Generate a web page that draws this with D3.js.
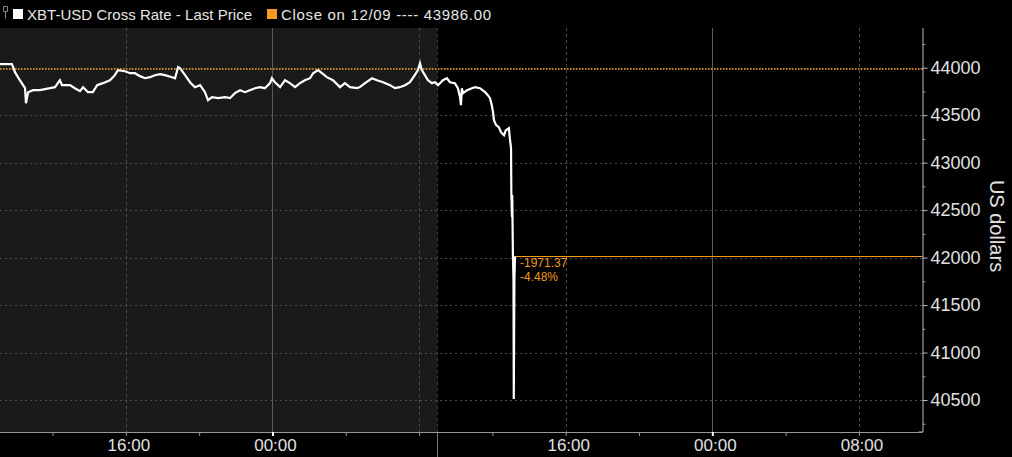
<!DOCTYPE html>
<html><head><meta charset="utf-8">
<script src="https://cdn.jsdelivr.net/npm/d3@7"></script>
<style>html,body{margin:0;padding:0;background:#000;}svg{display:block;font-family:"Liberation Sans",Arial,sans-serif;}</style>
</head><body><svg id="c" width="1012" height="457"></svg>
<script>
// ---- data ----
const times = [
"2021-09-12T09:08","2021-09-12T09:47","2021-09-12T09:51","2021-09-12T09:57","2021-09-12T10:13","2021-09-12T10:30","2021-09-12T10:33","2021-09-12T10:40","2021-09-12T10:56","2021-09-12T11:19",
"2021-09-12T11:35","2021-09-12T11:52","2021-09-12T12:08","2021-09-12T12:24","2021-09-12T12:31","2021-09-12T12:57","2021-09-12T13:13","2021-09-12T13:30","2021-09-12T13:40","2021-09-12T13:56",
"2021-09-12T14:12","2021-09-12T14:26","2021-09-12T14:45","2021-09-12T15:08","2021-09-12T15:24","2021-09-12T15:34","2021-09-12T15:57","2021-09-12T16:14","2021-09-12T16:30","2021-09-12T16:46",
"2021-09-12T17:03","2021-09-12T17:19","2021-09-12T17:35","2021-09-12T17:52","2021-09-12T18:08","2021-09-12T18:31","2021-09-12T18:41","2021-09-12T18:51","2021-09-12T18:57","2021-09-12T19:14",
"2021-09-12T19:30","2021-09-12T19:46","2021-09-12T20:03","2021-09-12T20:19","2021-09-12T20:29","2021-09-12T20:42","2021-09-12T21:02","2021-09-12T21:25","2021-09-12T21:41","2021-09-12T21:57",
"2021-09-12T22:14","2021-09-12T22:30","2021-09-12T22:46","2021-09-12T23:03","2021-09-12T23:19","2021-09-12T23:35","2021-09-12T23:52","2021-09-12T23:58",
"2021-09-13T00:08","2021-09-13T00:25","2021-09-13T00:41","2021-09-13T00:57","2021-09-13T01:14","2021-09-13T01:30","2021-09-13T01:46","2021-09-13T02:03","2021-09-13T02:13","2021-09-13T02:29",
"2021-09-13T02:42","2021-09-13T02:58","2021-09-13T03:18","2021-09-13T03:41","2021-09-13T03:57","2021-09-13T04:14","2021-09-13T04:37","2021-09-13T04:46","2021-09-13T05:03","2021-09-13T05:26",
"2021-09-13T05:42","2021-09-13T06:02","2021-09-13T06:25","2021-09-13T06:41","2021-09-13T06:57","2021-09-13T07:14","2021-09-13T07:30","2021-09-13T07:46","2021-09-13T07:56","2021-09-13T08:03",
"2021-09-13T08:09","2021-09-13T08:19","2021-09-13T08:29","2021-09-13T08:42","2021-09-13T08:52","2021-09-13T09:02","2021-09-13T09:18","2021-09-13T09:31","2021-09-13T09:41","2021-09-13T09:57",
"2021-09-13T10:07","2021-09-13T10:14","2021-09-13T10:17","2021-09-13T10:20","2021-09-13T10:24","2021-09-13T10:37","2021-09-13T10:53","2021-09-13T11:03","2021-09-13T11:19","2021-09-13T11:36",
"2021-09-13T11:45","2021-09-13T11:52","2021-09-13T11:58","2021-09-13T12:02","2021-09-13T12:05","2021-09-13T12:12","2021-09-13T12:21","2021-09-13T12:28","2021-09-13T12:38","2021-09-13T12:44",
"2021-09-13T12:54","2021-09-13T12:57","2021-09-13T13:01","2021-09-13T13:02","2021-09-13T13:04","2021-09-13T13:05","2021-09-13T13:07","2021-09-13T13:09","2021-09-13T13:10","2021-09-13T13:12",
"2021-09-13T13:14"];
const prices = [
44037,44037,44005,43953,43868,43784,43626,43742,43763,43763,
43774,43784,43795,43868,43816,43816,43784,43753,43795,43742,
43742,43816,43837,43868,43921,43974,43963,43942,43942,43911,
43889,43900,43921,43932,43921,43900,43889,44005,43995,43921,
43847,43795,43816,43742,43658,43689,43679,43689,43679,43732,
43763,43742,43763,43784,43795,43784,43837,43889,
43847,43795,43868,43837,43795,43837,43868,43889,43942,43974,
43942,43900,43868,43795,43837,43795,43784,43795,43837,43889,
43868,43847,43816,43784,43795,43816,43847,43921,43974,44047,
43974,43921,43868,43837,43847,43816,43868,43889,43847,43837,
43784,43689,43605,43784,43732,43763,43784,43795,43784,43742,
43711,43679,43605,43532,43447,43395,43374,43321,43289,43342,
43363,43258,43153,42679,42426,42658,42047,41763,40511,41780,
42014.63];
const prevClose = 43986.00;
const lastPrice = 42014.63;
const yTickValues = [40500,41000,41500,42000,42500,43000,43500,44000];
const yMinorValues = [40250,40750,41250,41750,42250,42750,43250,43750,44250];
const xTickTimes = ["2021-09-12T12:00","2021-09-12T16:00","2021-09-12T20:00","2021-09-13T00:00","2021-09-13T04:00","2021-09-13T08:00","2021-09-13T12:00","2021-09-13T16:00","2021-09-13T20:00","2021-09-14T00:00","2021-09-14T04:00","2021-09-14T08:00"];
const xLabelTimes = ["2021-09-12T16:00","2021-09-13T00:00","2021-09-13T16:00","2021-09-14T00:00","2021-09-14T08:00"];
const xLabels = ["16:00","00:00","16:00","00:00","08:00"];
const xGridTimes = ["2021-09-12T16:00","2021-09-13T00:00","2021-09-13T08:00","2021-09-13T16:00","2021-09-14T00:00","2021-09-14T08:00"];
const sessionStart = "2021-09-13T09:00";
const xDomain = ["2021-09-12T09:08","2021-09-14T11:28"];
const yDomain = [40163, 44418];
const legendMain = "XBT-USD Cross Rate - Last Price";
const legendClose = "Close on 12/09 ---- 43986.00";
const yTitle = "US dollars";

// ---- drawing ----
const parse = d3.utcParse("%Y-%m-%dT%H:%M");
const W=1012,H=457, L=0, R=922.5, T=28, B=432;
const ORANGE="#f39a1e";
const svg=d3.select("#c");
svg.append("rect").attr("width",W).attr("height",H).attr("fill","#000");

const x=d3.scaleUtc().domain(xDomain.map(parse)).range([L,R]);
const y=d3.scaleLinear().domain(yDomain).range([B,T]);
const hy = s => s.replace(/\u2212/g,"-");

// shaded previous session
svg.append("rect").attr("x",L).attr("y",T).attr("width",x(parse(sessionStart))-L).attr("height",B-T).attr("fill","#1a1a1a");

// horizontal gridlines
svg.append("g").selectAll("line").data(yTickValues).join("line")
  .attr("x1",L).attr("x2",R).attr("y1",d=>Math.round(y(d))+0.5).attr("y2",d=>Math.round(y(d))+0.5)
  .attr("stroke","#4a4a4a").attr("stroke-width",1).attr("stroke-dasharray","2,3");
// vertical gridlines
svg.append("g").selectAll("line").data(xGridTimes.map(parse)).join("line")
  .attr("x1",d=>Math.round(x(d))+0.5).attr("x2",d=>Math.round(x(d))+0.5).attr("y1",T).attr("y2",B)
  .attr("stroke",d=>d.getUTCHours()===0?"#5a5a5a":"#4a4a4a")
  .attr("stroke-dasharray",d=>d.getUTCHours()===0?null:"3,3");
// session separator
const sx=Math.round(x(parse(sessionStart)))+0.5;
svg.append("line").attr("x1",sx).attr("x2",sx).attr("y1",T).attr("y2",B).attr("stroke","#3a3a3a").attr("stroke-dasharray","3,3");
svg.append("line").attr("x1",sx).attr("x2",sx).attr("y1",B).attr("y2",H).attr("stroke","#777");

// previous close dotted line
svg.append("line").attr("x1",L).attr("x2",R).attr("y1",y(prevClose)).attr("y2",y(prevClose))
  .attr("stroke","#c98120").attr("stroke-width",2).attr("stroke-dasharray","1.5,1.5");

// price line
const data=times.map((t,i)=>({t:parse(t),v:prices[i]}));
svg.append("path").datum(data)
  .attr("d",d3.line().x(d=>x(d.t)).y(d=>y(d.v)))
  .attr("fill","none").attr("stroke","#fff").attr("stroke-width",2.2).attr("stroke-linejoin","miter");

// last price line
const lastT=data[data.length-1].t;
svg.append("line").attr("x1",x(lastT)+1).attr("x2",R).attr("y1",Math.round(y(lastPrice))+0.5).attr("y2",Math.round(y(lastPrice))+0.5)
  .attr("stroke",ORANGE).attr("stroke-width",1);
const chg=lastPrice-prevClose;
svg.append("text").attr("x",x(lastT)+5).attr("y",y(lastPrice)+11).attr("fill",ORANGE).attr("font-size",12).text(hy(d3.format(".2f")(chg)));
svg.append("text").attr("x",x(lastT)+5).attr("y",y(lastPrice)+25).attr("fill",ORANGE).attr("font-size",12).text(hy(d3.format(".2f")(chg/prevClose*100))+"%");

// y axis
const yAxis=svg.append("g").attr("transform",`translate(${R},0)`)
  .call(d3.axisRight(y).tickValues(yTickValues).tickSize(5).tickPadding(3).tickFormat(d3.format("d")));
yAxis.select(".domain").attr("stroke","#bbb").attr("d",`M0.5,${T}V${B}H-4`);
yAxis.selectAll(".tick line").attr("stroke","#bbb");
yAxis.selectAll("text").attr("fill","#e0e0e0").attr("font-size",18).attr("font-family","Liberation Sans, Arial, sans-serif");
const yMinor=svg.append("g").attr("transform",`translate(${R},0)`)
  .call(d3.axisRight(y).tickValues(yMinorValues).tickSize(3).tickFormat(""));
yMinor.select(".domain").remove();
yMinor.selectAll(".tick line").attr("stroke","#999");

// x axis
const xAxis=svg.append("g").attr("transform",`translate(0,${B})`)
  .call(d3.axisBottom(x).tickValues(xTickTimes.map(parse)).tickSize(4).tickFormat(""));
xAxis.select(".domain").attr("stroke","#999").attr("d",`M${L},0.5H${R}`);
xAxis.selectAll(".tick line").attr("stroke",d=>d.getUTCHours()===0?"#fff":"#999").attr("stroke-width",d=>d.getUTCHours()===0?2:1);
svg.append("g").selectAll("text").data(xLabelTimes.map(parse)).join("text")
  .attr("x",d=>x(d)+3).attr("y",451).attr("text-anchor","middle").attr("fill","#e0e0e0").attr("font-size",17)
  .text((d,i)=>xLabels[i]);

// y title
svg.append("text").attr("transform",`translate(990,226) rotate(90)`).attr("text-anchor","middle")
  .attr("fill","#e0e0e0").attr("font-size",20).text(yTitle);

// legend
svg.append("path").attr("d","M3.5,6.5h4v5h-4z M5.5,11.5v7").attr("fill","none").attr("stroke","#888").attr("stroke-width",1);
svg.append("rect").attr("x",13).attr("y",9).attr("width",10).attr("height",10).attr("fill","#fff");
svg.append("text").attr("x",27).attr("y",19.5).attr("fill","#e6e6e6").attr("font-size",15).attr("textLength",225).attr("lengthAdjust","spacing").text(legendMain);
svg.append("rect").attr("x",267).attr("y",9).attr("width",10).attr("height",10).attr("fill",ORANGE);
svg.append("text").attr("x",281).attr("y",19.5).attr("fill","#e6e6e6").attr("font-size",15).attr("textLength",210).attr("lengthAdjust","spacing").text(legendClose);
</script></body></html>
